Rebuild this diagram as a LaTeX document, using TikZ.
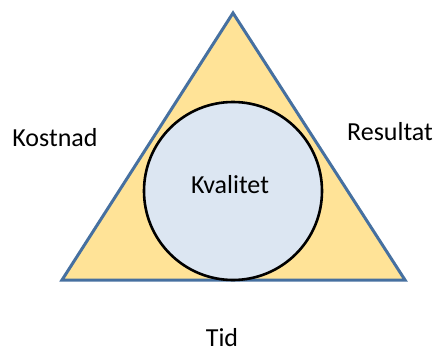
\documentclass[tikz,border=0pt]{standalone}
\usepackage{fontspec}
\setmainfont{Carlito}
\definecolor{trifill}{HTML}{FFE397}
\definecolor{triline}{HTML}{4670A0}
\definecolor{circfill}{HTML}{DCE6F2}
\begin{document}
\begin{tikzpicture}[x=1pt,y=-1pt,
  lbl/.style={font=\fontsize{26}{30}\selectfont, text=black, inner sep=0pt}]
\useasboundingbox (0,0) rectangle (436,353);
\coordinate (top) at (233,13);
\coordinate (bl) at (62,280);
\coordinate (br) at (405,280);
\draw[triline, fill=trifill, line width=3pt, line join=miter] (top) -- (br) -- (bl) -- cycle;
\node[circle, draw=black, fill=circfill, line width=2.6pt, minimum size=178pt, inner sep=0pt] (circ) at (233,191) {};
\node[lbl] (kval) at (230,185) {Kvalitet};
\node[lbl] (kost) at (55,138) {Kostnad};
\node[lbl] (res) at (390,132) {Resultat};
\node[lbl] (tid) at (222,338) {Tid};
\end{tikzpicture}
\end{document}
